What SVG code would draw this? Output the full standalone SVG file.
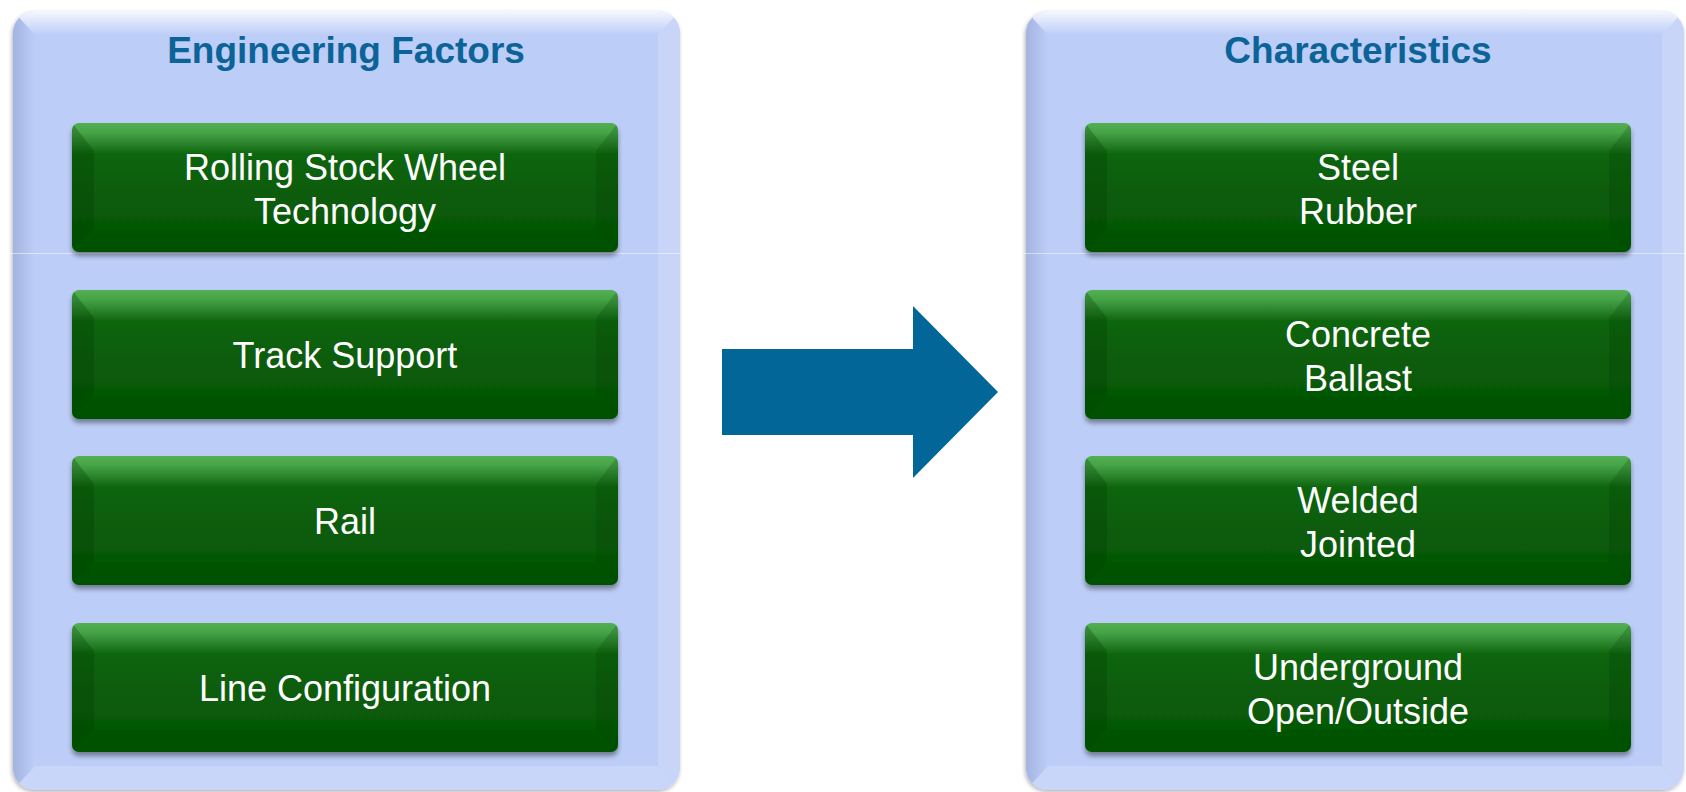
<svg xmlns="http://www.w3.org/2000/svg" width="1686" height="792" viewBox="0 0 1686 792">
  <defs>
    <style>
      .title { font-family: "Liberation Sans", Arial, sans-serif; font-weight: bold; font-size: 37px; fill: #0b6398; text-anchor: middle; }
      .label { font-family: "Liberation Sans", Arial, sans-serif; font-size: 36px; fill: #ffffff; text-anchor: middle; }
      .panel { fill: #bccdf7; }
      .boxbody { fill: url(#greenBody); }
      .bevelL { fill: #003800; opacity: 0.28; }
      .bevelR { fill: #003800; opacity: 0.2; }
      .bevelB { fill: #003800; opacity: 0.12; }
    </style>
    <linearGradient id="greenBody" x1="0" y1="0" x2="0" y2="1">
      <stop offset="0" stop-color="#52b052"/>
      <stop offset="0.07" stop-color="#47a448"/>
      <stop offset="0.24" stop-color="#106610"/>
      <stop offset="0.5" stop-color="#0a5d0a"/>
      <stop offset="1" stop-color="#035603"/>
    </linearGradient>
    <linearGradient id="panelTop" x1="0" y1="0" x2="0" y2="1">
      <stop offset="0" stop-color="#ffffff" stop-opacity="0.85"/>
      <stop offset="1" stop-color="#ffffff" stop-opacity="0"/>
    </linearGradient>
    <linearGradient id="panelLeft" x1="0" y1="0" x2="1" y2="0">
      <stop offset="0" stop-color="#8f9fd0" stop-opacity="0.55"/>
      <stop offset="1" stop-color="#8f9fd0" stop-opacity="0"/>
    </linearGradient>
    <filter id="panelShadow" x="-5%" y="-5%" width="110%" height="110%">
      <feGaussianBlur in="SourceAlpha" stdDeviation="2"/>
      <feOffset dx="-1" dy="2" result="b"/>
      <feComponentTransfer><feFuncA type="linear" slope="0.3"/></feComponentTransfer>
      <feMerge><feMergeNode/><feMergeNode in="SourceGraphic"/></feMerge>
    </filter>
    <filter id="boxShadow" x="-5%" y="-10%" width="110%" height="125%">
      <feGaussianBlur in="SourceAlpha" stdDeviation="2.5"/>
      <feOffset dx="0" dy="4"/>
      <feComponentTransfer><feFuncA type="linear" slope="0.4"/></feComponentTransfer>
      <feMerge><feMergeNode/><feMergeNode in="SourceGraphic"/></feMerge>
    </filter>
    <clipPath id="boxClip"><rect x="0" y="0" width="546" height="129" rx="7"/></clipPath>
    <clipPath id="panelClipL"><rect x="0" y="0" width="667" height="779" rx="22"/></clipPath>
    <clipPath id="panelClipR"><rect x="0" y="0" width="658" height="779" rx="22"/></clipPath>

    <!-- green bevelled button face, 546 x 129 -->
    <g id="greenBox">
      <g filter="url(#boxShadow)">
        <rect class="boxbody" x="0" y="0" width="546" height="129" rx="7"/>
      </g>
      <g clip-path="url(#boxClip)">
        <polygon class="bevelL" points="0,0 22,28 22,106 0,129"/>
        <polygon class="bevelR" points="546,0 524,28 524,106 546,129"/>
        <polygon class="bevelB" points="22,106 524,106 546,129 0,129"/>
      </g>
    </g>
  </defs>

  <rect x="0" y="0" width="1686" height="792" fill="#ffffff"/>

  <!-- left container -->
  <g id="panel-engineering" transform="translate(13,11)">
    <rect class="panel" x="0" y="0" width="667" height="779" rx="22" filter="url(#panelShadow)"/>
    <g clip-path="url(#panelClipL)">
      <polygon points="0,0 667,0 645,24 22,24" fill="url(#panelTop)"/>
      <polygon points="0,0 22,24 22,755 0,779" fill="url(#panelLeft)"/>
      <polygon points="667,0 667,779 645,755 645,24" fill="#d3defb" opacity="0.5"/>
      <polygon points="0,779 22,755 645,755 667,779" fill="#d0dcfb" opacity="0.6"/>
    </g>
    <text class="title" x="333" y="52">Engineering Factors</text>
  </g>

  <!-- right container -->
  <g id="panel-characteristics" transform="translate(1026,11)">
    <rect class="panel" x="0" y="0" width="658" height="779" rx="22" filter="url(#panelShadow)"/>
    <g clip-path="url(#panelClipR)">
      <polygon points="0,0 658,0 636,24 22,24" fill="url(#panelTop)"/>
      <polygon points="0,0 22,24 22,755 0,779" fill="url(#panelLeft)"/>
      <polygon points="658,0 658,779 636,755 636,24" fill="#d3defb" opacity="0.5"/>
      <polygon points="0,779 22,755 636,755 658,779" fill="#d0dcfb" opacity="0.6"/>
    </g>
    <text class="title" x="332" y="52">Characteristics</text>
  </g>

  <!-- faint rule across both containers -->
  <g opacity="0.5">
    <line x1="0" y1="253.5" x2="683" y2="253.5" stroke="#ffffff" stroke-width="1"/>
    <line x1="1024" y1="253.5" x2="1686" y2="253.5" stroke="#ffffff" stroke-width="1"/>
  </g>

  <!-- engineering factor nodes -->
  <g id="node-rolling-stock" transform="translate(72,123)">
    <use href="#greenBox"/>
    <text class="label" x="273" y="57">Rolling Stock Wheel</text>
    <text class="label" x="273" y="101">Technology</text>
  </g>
  <g id="node-track-support" transform="translate(72,290)">
    <use href="#greenBox"/>
    <text class="label" x="273" y="78">Track Support</text>
  </g>
  <g id="node-rail" transform="translate(72,456)">
    <use href="#greenBox"/>
    <text class="label" x="273" y="78">Rail</text>
  </g>
  <g id="node-line-config" transform="translate(72,623)">
    <use href="#greenBox"/>
    <text class="label" x="273" y="78">Line Configuration</text>
  </g>

  <!-- characteristic nodes -->
  <g id="node-steel-rubber" transform="translate(1085,123)">
    <use href="#greenBox"/>
    <text class="label" x="273" y="57">Steel</text>
    <text class="label" x="273" y="101">Rubber</text>
  </g>
  <g id="node-concrete-ballast" transform="translate(1085,290)">
    <use href="#greenBox"/>
    <text class="label" x="273" y="57">Concrete</text>
    <text class="label" x="273" y="101">Ballast</text>
  </g>
  <g id="node-welded-jointed" transform="translate(1085,456)">
    <use href="#greenBox"/>
    <text class="label" x="273" y="57">Welded</text>
    <text class="label" x="273" y="101">Jointed</text>
  </g>
  <g id="node-underground-open" transform="translate(1085,623)">
    <use href="#greenBox"/>
    <text class="label" x="273" y="57">Underground</text>
    <text class="label" x="273" y="101">Open/Outside</text>
  </g>

  <!-- connector: block arrow between containers -->
  <g id="connectors">
    <polygon points="722,349 913,349 913,306 998,392 913,478 913,435 722,435" fill="#026699"/>
  </g>
</svg>
